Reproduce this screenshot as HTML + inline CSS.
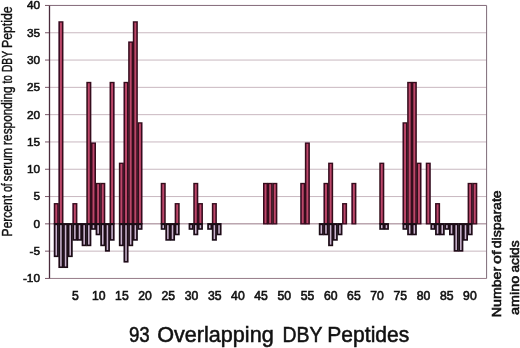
<!DOCTYPE html>
<html><head><meta charset="utf-8"><title>93 Overlapping DBY Peptides</title>
<style>
html,body{margin:0;padding:0;background:#fff;}
svg{display:block}
text{font-family:"Liberation Sans",sans-serif;fill:#111;}
.t{font-size:11.8px;stroke:#111;stroke-width:0.55px;}
.tx{font-size:12.2px;stroke:#111;stroke-width:0.6px;}
.l{font-size:13.9px;stroke:#111;stroke-width:0.4px;}
.r{font-size:13.6px;stroke:#111;stroke-width:0.6px;}
.b{font-size:22.5px;stroke:#111;stroke-width:0.55px;}
</style></head><body>
<svg width="520" height="348" viewBox="0 0 520 348">
<defs><filter id="bl" x="0" y="0" width="520" height="348" filterUnits="userSpaceOnUse"><feGaussianBlur stdDeviation="0.42"/></filter></defs>
<rect width="520" height="348" fill="#fff"/>
<line x1="49.3" x2="486.6" y1="278.45" y2="278.45" stroke="#8a6c7a" stroke-width="0.9"/>
<line x1="45" x2="49.3" y1="278.45" y2="278.45" stroke="#7a5868" stroke-width="1"/>
<line x1="49.3" x2="486.6" y1="251.15" y2="251.15" stroke="#c3b0b9" stroke-width="0.9"/>
<line x1="45" x2="49.3" y1="251.15" y2="251.15" stroke="#7a5868" stroke-width="1"/>
<line x1="49.3" x2="486.6" y1="223.85" y2="223.85" stroke="#8c6878" stroke-width="0.9"/>
<line x1="45" x2="49.3" y1="223.85" y2="223.85" stroke="#7a5868" stroke-width="1"/>
<line x1="49.3" x2="486.6" y1="196.55" y2="196.55" stroke="#c3b0b9" stroke-width="0.9"/>
<line x1="45" x2="49.3" y1="196.55" y2="196.55" stroke="#7a5868" stroke-width="1"/>
<line x1="49.3" x2="486.6" y1="169.25" y2="169.25" stroke="#c3b0b9" stroke-width="0.9"/>
<line x1="45" x2="49.3" y1="169.25" y2="169.25" stroke="#7a5868" stroke-width="1"/>
<line x1="49.3" x2="486.6" y1="141.95" y2="141.95" stroke="#c3b0b9" stroke-width="0.9"/>
<line x1="45" x2="49.3" y1="141.95" y2="141.95" stroke="#7a5868" stroke-width="1"/>
<line x1="49.3" x2="486.6" y1="114.65" y2="114.65" stroke="#c3b0b9" stroke-width="0.9"/>
<line x1="45" x2="49.3" y1="114.65" y2="114.65" stroke="#7a5868" stroke-width="1"/>
<line x1="49.3" x2="486.6" y1="87.35" y2="87.35" stroke="#c3b0b9" stroke-width="0.9"/>
<line x1="45" x2="49.3" y1="87.35" y2="87.35" stroke="#7a5868" stroke-width="1"/>
<line x1="49.3" x2="486.6" y1="60.05" y2="60.05" stroke="#c3b0b9" stroke-width="0.9"/>
<line x1="45" x2="49.3" y1="60.05" y2="60.05" stroke="#7a5868" stroke-width="1"/>
<line x1="49.3" x2="486.6" y1="32.75" y2="32.75" stroke="#c3b0b9" stroke-width="0.9"/>
<line x1="45" x2="49.3" y1="32.75" y2="32.75" stroke="#7a5868" stroke-width="1"/>
<line x1="49.3" x2="486.6" y1="5.45" y2="5.45" stroke="#75586a" stroke-width="0.9"/>
<line x1="45" x2="49.3" y1="5.45" y2="5.45" stroke="#7a5868" stroke-width="1"/>
<line x1="486.6" x2="486.6" y1="5.5" y2="278.5" stroke="#7d6a78" stroke-width="1"/>
<line x1="49.5" x2="49.5" y1="5.5" y2="278.5" stroke="#4a2c3c" stroke-width="1.3"/>
<g filter="url(#bl)">
<rect x="53.75" y="203.05" width="5.050000000000001" height="21.40" fill="#360a1e"/>
<rect x="55.30" y="204.40" width="1.95" height="18.80" fill="#bc4669"/>
<rect x="58.40" y="21.23" width="5.050000000000001" height="203.22" fill="#360a1e"/>
<rect x="59.95" y="22.58" width="1.95" height="200.62" fill="#bc4669"/>
<rect x="72.35" y="203.05" width="5.050000000000001" height="21.40" fill="#360a1e"/>
<rect x="73.90" y="204.40" width="1.95" height="18.80" fill="#bc4669"/>
<rect x="86.30" y="81.84" width="5.050000000000001" height="142.61" fill="#360a1e"/>
<rect x="87.85" y="83.19" width="1.95" height="140.01" fill="#bc4669"/>
<rect x="90.95" y="142.44" width="5.050000000000001" height="82.01" fill="#360a1e"/>
<rect x="92.50" y="143.79" width="1.95" height="79.41" fill="#bc4669"/>
<rect x="95.60" y="182.85" width="5.050000000000001" height="41.60" fill="#360a1e"/>
<rect x="97.15" y="184.20" width="1.95" height="39.00" fill="#bc4669"/>
<rect x="100.25" y="182.85" width="5.050000000000001" height="41.60" fill="#360a1e"/>
<rect x="101.80" y="184.20" width="1.95" height="39.00" fill="#bc4669"/>
<rect x="109.55" y="81.84" width="5.050000000000001" height="142.61" fill="#360a1e"/>
<rect x="111.10" y="83.19" width="1.95" height="140.01" fill="#bc4669"/>
<rect x="118.85" y="162.64" width="5.050000000000001" height="61.81" fill="#360a1e"/>
<rect x="120.40" y="163.99" width="1.95" height="59.21" fill="#bc4669"/>
<rect x="123.50" y="81.84" width="5.050000000000001" height="142.61" fill="#360a1e"/>
<rect x="125.05" y="83.19" width="1.95" height="140.01" fill="#bc4669"/>
<rect x="128.15" y="41.43" width="5.050000000000001" height="183.02" fill="#360a1e"/>
<rect x="129.70" y="42.78" width="1.95" height="180.42" fill="#bc4669"/>
<rect x="132.80" y="21.23" width="5.050000000000001" height="203.22" fill="#360a1e"/>
<rect x="134.35" y="22.58" width="1.95" height="200.62" fill="#bc4669"/>
<rect x="137.45" y="122.24" width="5.050000000000001" height="102.21" fill="#360a1e"/>
<rect x="139.00" y="123.59" width="1.95" height="99.61" fill="#bc4669"/>
<rect x="160.70" y="182.85" width="5.050000000000001" height="41.60" fill="#360a1e"/>
<rect x="162.25" y="184.20" width="1.95" height="39.00" fill="#bc4669"/>
<rect x="174.65" y="203.05" width="5.050000000000001" height="21.40" fill="#360a1e"/>
<rect x="176.20" y="204.40" width="1.95" height="18.80" fill="#bc4669"/>
<rect x="193.25" y="182.85" width="5.050000000000001" height="41.60" fill="#360a1e"/>
<rect x="194.80" y="184.20" width="1.95" height="39.00" fill="#bc4669"/>
<rect x="197.90" y="203.05" width="5.050000000000001" height="21.40" fill="#360a1e"/>
<rect x="199.45" y="204.40" width="1.95" height="18.80" fill="#bc4669"/>
<rect x="211.85" y="203.05" width="5.050000000000001" height="21.40" fill="#360a1e"/>
<rect x="213.40" y="204.40" width="1.95" height="18.80" fill="#bc4669"/>
<rect x="263.00" y="182.85" width="5.050000000000001" height="41.60" fill="#360a1e"/>
<rect x="264.55" y="184.20" width="1.95" height="39.00" fill="#bc4669"/>
<rect x="267.65" y="182.85" width="5.050000000000001" height="41.60" fill="#360a1e"/>
<rect x="269.20" y="184.20" width="1.95" height="39.00" fill="#bc4669"/>
<rect x="272.30" y="182.85" width="5.050000000000001" height="41.60" fill="#360a1e"/>
<rect x="273.85" y="184.20" width="1.95" height="39.00" fill="#bc4669"/>
<rect x="300.20" y="182.85" width="5.050000000000001" height="41.60" fill="#360a1e"/>
<rect x="301.75" y="184.20" width="1.95" height="39.00" fill="#bc4669"/>
<rect x="304.85" y="142.44" width="5.050000000000001" height="82.01" fill="#360a1e"/>
<rect x="306.40" y="143.79" width="1.95" height="79.41" fill="#bc4669"/>
<rect x="323.45" y="182.85" width="5.050000000000001" height="41.60" fill="#360a1e"/>
<rect x="325.00" y="184.20" width="1.95" height="39.00" fill="#bc4669"/>
<rect x="328.10" y="162.64" width="5.050000000000001" height="61.81" fill="#360a1e"/>
<rect x="329.65" y="163.99" width="1.95" height="59.21" fill="#bc4669"/>
<rect x="342.05" y="203.05" width="5.050000000000001" height="21.40" fill="#360a1e"/>
<rect x="343.60" y="204.40" width="1.95" height="18.80" fill="#bc4669"/>
<rect x="351.35" y="182.85" width="5.050000000000001" height="41.60" fill="#360a1e"/>
<rect x="352.90" y="184.20" width="1.95" height="39.00" fill="#bc4669"/>
<rect x="379.25" y="162.64" width="5.050000000000001" height="61.81" fill="#360a1e"/>
<rect x="380.80" y="163.99" width="1.95" height="59.21" fill="#bc4669"/>
<rect x="402.50" y="122.24" width="5.050000000000001" height="102.21" fill="#360a1e"/>
<rect x="404.05" y="123.59" width="1.95" height="99.61" fill="#bc4669"/>
<rect x="407.15" y="81.84" width="5.050000000000001" height="142.61" fill="#360a1e"/>
<rect x="408.70" y="83.19" width="1.95" height="140.01" fill="#bc4669"/>
<rect x="411.80" y="81.84" width="5.050000000000001" height="142.61" fill="#360a1e"/>
<rect x="413.35" y="83.19" width="1.95" height="140.01" fill="#bc4669"/>
<rect x="416.45" y="162.64" width="5.050000000000001" height="61.81" fill="#360a1e"/>
<rect x="418.00" y="163.99" width="1.95" height="59.21" fill="#bc4669"/>
<rect x="425.75" y="162.64" width="5.050000000000001" height="61.81" fill="#360a1e"/>
<rect x="427.30" y="163.99" width="1.95" height="59.21" fill="#bc4669"/>
<rect x="435.05" y="203.05" width="5.050000000000001" height="21.40" fill="#360a1e"/>
<rect x="436.60" y="204.40" width="1.95" height="18.80" fill="#bc4669"/>
<rect x="467.60" y="182.85" width="5.050000000000001" height="41.60" fill="#360a1e"/>
<rect x="469.15" y="184.20" width="1.95" height="39.00" fill="#bc4669"/>
<rect x="472.25" y="182.85" width="5.050000000000001" height="41.60" fill="#360a1e"/>
<rect x="473.80" y="184.20" width="1.95" height="39.00" fill="#bc4669"/>
<rect x="53.75" y="223.05" width="5.050000000000001" height="34.06" fill="#1c0a18"/>
<rect x="55.50" y="225.15" width="1.55" height="30.36" fill="#c9b3cd"/>
<rect x="58.40" y="223.05" width="5.050000000000001" height="44.98" fill="#1c0a18"/>
<rect x="60.15" y="225.15" width="1.55" height="41.28" fill="#c9b3cd"/>
<rect x="63.05" y="223.05" width="5.050000000000001" height="44.98" fill="#1c0a18"/>
<rect x="64.80" y="225.15" width="1.55" height="41.28" fill="#c9b3cd"/>
<rect x="67.70" y="223.05" width="5.050000000000001" height="34.06" fill="#1c0a18"/>
<rect x="69.45" y="225.15" width="1.55" height="30.36" fill="#c9b3cd"/>
<rect x="72.35" y="223.05" width="5.050000000000001" height="17.68" fill="#1c0a18"/>
<rect x="74.10" y="225.15" width="1.55" height="13.98" fill="#c9b3cd"/>
<rect x="77.00" y="223.05" width="5.050000000000001" height="17.68" fill="#1c0a18"/>
<rect x="78.75" y="225.15" width="1.55" height="13.98" fill="#c9b3cd"/>
<rect x="81.65" y="223.05" width="5.050000000000001" height="23.14" fill="#1c0a18"/>
<rect x="83.40" y="225.15" width="1.55" height="19.44" fill="#c9b3cd"/>
<rect x="86.30" y="223.05" width="5.050000000000001" height="23.14" fill="#1c0a18"/>
<rect x="88.05" y="225.15" width="1.55" height="19.44" fill="#c9b3cd"/>
<rect x="90.95" y="223.05" width="5.050000000000001" height="6.76" fill="#1c0a18"/>
<rect x="92.70" y="225.15" width="1.55" height="3.06" fill="#c9b3cd"/>
<rect x="95.60" y="223.05" width="5.050000000000001" height="12.22" fill="#1c0a18"/>
<rect x="97.35" y="225.15" width="1.55" height="8.52" fill="#c9b3cd"/>
<rect x="100.25" y="223.05" width="5.050000000000001" height="23.14" fill="#1c0a18"/>
<rect x="102.00" y="225.15" width="1.55" height="19.44" fill="#c9b3cd"/>
<rect x="104.90" y="223.05" width="5.050000000000001" height="28.60" fill="#1c0a18"/>
<rect x="106.65" y="225.15" width="1.55" height="24.90" fill="#c9b3cd"/>
<rect x="109.55" y="223.05" width="5.050000000000001" height="17.68" fill="#1c0a18"/>
<rect x="111.30" y="225.15" width="1.55" height="13.98" fill="#c9b3cd"/>
<rect x="118.85" y="223.05" width="5.050000000000001" height="23.14" fill="#1c0a18"/>
<rect x="120.60" y="225.15" width="1.55" height="19.44" fill="#c9b3cd"/>
<rect x="123.50" y="223.05" width="5.050000000000001" height="39.52" fill="#1c0a18"/>
<rect x="125.25" y="225.15" width="1.55" height="35.82" fill="#c9b3cd"/>
<rect x="128.15" y="223.05" width="5.050000000000001" height="23.14" fill="#1c0a18"/>
<rect x="129.90" y="225.15" width="1.55" height="19.44" fill="#c9b3cd"/>
<rect x="132.80" y="223.05" width="5.050000000000001" height="17.68" fill="#1c0a18"/>
<rect x="134.55" y="225.15" width="1.55" height="13.98" fill="#c9b3cd"/>
<rect x="137.45" y="223.05" width="5.050000000000001" height="6.76" fill="#1c0a18"/>
<rect x="139.20" y="225.15" width="1.55" height="3.06" fill="#c9b3cd"/>
<rect x="160.70" y="223.05" width="5.050000000000001" height="6.76" fill="#1c0a18"/>
<rect x="162.45" y="225.15" width="1.55" height="3.06" fill="#c9b3cd"/>
<rect x="165.35" y="223.05" width="5.050000000000001" height="17.68" fill="#1c0a18"/>
<rect x="167.10" y="225.15" width="1.55" height="13.98" fill="#c9b3cd"/>
<rect x="170.00" y="223.05" width="5.050000000000001" height="17.68" fill="#1c0a18"/>
<rect x="171.75" y="225.15" width="1.55" height="13.98" fill="#c9b3cd"/>
<rect x="174.65" y="223.05" width="5.050000000000001" height="12.22" fill="#1c0a18"/>
<rect x="176.40" y="225.15" width="1.55" height="8.52" fill="#c9b3cd"/>
<rect x="188.60" y="223.05" width="5.050000000000001" height="6.76" fill="#1c0a18"/>
<rect x="190.35" y="225.15" width="1.55" height="3.06" fill="#c9b3cd"/>
<rect x="193.25" y="223.05" width="5.050000000000001" height="12.22" fill="#1c0a18"/>
<rect x="195.00" y="225.15" width="1.55" height="8.52" fill="#c9b3cd"/>
<rect x="197.90" y="223.05" width="5.050000000000001" height="6.76" fill="#1c0a18"/>
<rect x="199.65" y="225.15" width="1.55" height="3.06" fill="#c9b3cd"/>
<rect x="207.20" y="223.05" width="5.050000000000001" height="6.76" fill="#1c0a18"/>
<rect x="208.95" y="225.15" width="1.55" height="3.06" fill="#c9b3cd"/>
<rect x="211.85" y="223.05" width="5.050000000000001" height="17.68" fill="#1c0a18"/>
<rect x="213.60" y="225.15" width="1.55" height="13.98" fill="#c9b3cd"/>
<rect x="216.50" y="223.05" width="5.050000000000001" height="12.22" fill="#1c0a18"/>
<rect x="218.25" y="225.15" width="1.55" height="8.52" fill="#c9b3cd"/>
<rect x="318.80" y="223.05" width="5.050000000000001" height="12.22" fill="#1c0a18"/>
<rect x="320.55" y="225.15" width="1.55" height="8.52" fill="#c9b3cd"/>
<rect x="323.45" y="223.05" width="5.050000000000001" height="12.22" fill="#1c0a18"/>
<rect x="325.20" y="225.15" width="1.55" height="8.52" fill="#c9b3cd"/>
<rect x="328.10" y="223.05" width="5.050000000000001" height="23.14" fill="#1c0a18"/>
<rect x="329.85" y="225.15" width="1.55" height="19.44" fill="#c9b3cd"/>
<rect x="332.75" y="223.05" width="5.050000000000001" height="17.68" fill="#1c0a18"/>
<rect x="334.50" y="225.15" width="1.55" height="13.98" fill="#c9b3cd"/>
<rect x="337.40" y="223.05" width="5.050000000000001" height="12.22" fill="#1c0a18"/>
<rect x="339.15" y="225.15" width="1.55" height="8.52" fill="#c9b3cd"/>
<rect x="379.25" y="223.05" width="5.050000000000001" height="6.76" fill="#1c0a18"/>
<rect x="381.00" y="225.15" width="1.55" height="3.06" fill="#c9b3cd"/>
<rect x="383.90" y="223.05" width="5.050000000000001" height="6.76" fill="#1c0a18"/>
<rect x="385.65" y="225.15" width="1.55" height="3.06" fill="#c9b3cd"/>
<rect x="402.50" y="223.05" width="5.050000000000001" height="6.76" fill="#1c0a18"/>
<rect x="404.25" y="225.15" width="1.55" height="3.06" fill="#c9b3cd"/>
<rect x="407.15" y="223.05" width="5.050000000000001" height="12.22" fill="#1c0a18"/>
<rect x="408.90" y="225.15" width="1.55" height="8.52" fill="#c9b3cd"/>
<rect x="411.80" y="223.05" width="5.050000000000001" height="12.22" fill="#1c0a18"/>
<rect x="413.55" y="225.15" width="1.55" height="8.52" fill="#c9b3cd"/>
<rect x="430.40" y="223.05" width="5.050000000000001" height="6.76" fill="#1c0a18"/>
<rect x="432.15" y="225.15" width="1.55" height="3.06" fill="#c9b3cd"/>
<rect x="435.05" y="223.05" width="5.050000000000001" height="12.22" fill="#1c0a18"/>
<rect x="436.80" y="225.15" width="1.55" height="8.52" fill="#c9b3cd"/>
<rect x="439.70" y="223.05" width="5.050000000000001" height="12.22" fill="#1c0a18"/>
<rect x="441.45" y="225.15" width="1.55" height="8.52" fill="#c9b3cd"/>
<rect x="444.35" y="223.05" width="5.050000000000001" height="6.76" fill="#1c0a18"/>
<rect x="446.10" y="225.15" width="1.55" height="3.06" fill="#c9b3cd"/>
<rect x="449.00" y="223.05" width="5.050000000000001" height="12.22" fill="#1c0a18"/>
<rect x="450.75" y="225.15" width="1.55" height="8.52" fill="#c9b3cd"/>
<rect x="453.65" y="223.05" width="5.050000000000001" height="28.60" fill="#1c0a18"/>
<rect x="455.40" y="225.15" width="1.55" height="24.90" fill="#c9b3cd"/>
<rect x="458.30" y="223.05" width="5.050000000000001" height="28.60" fill="#1c0a18"/>
<rect x="460.05" y="225.15" width="1.55" height="24.90" fill="#c9b3cd"/>
<rect x="462.95" y="223.05" width="5.050000000000001" height="17.68" fill="#1c0a18"/>
<rect x="464.70" y="225.15" width="1.55" height="13.98" fill="#c9b3cd"/>
<rect x="467.60" y="223.05" width="5.050000000000001" height="12.22" fill="#1c0a18"/>
<rect x="469.35" y="225.15" width="1.55" height="8.52" fill="#c9b3cd"/>
</g>
<text class="t" x="40.0" y="282.35" text-anchor="end">-10</text>
<text class="t" x="40.0" y="255.05" text-anchor="end">-5</text>
<text class="t" x="40.0" y="227.75" text-anchor="end">0</text>
<text class="t" x="40.0" y="200.45" text-anchor="end">5</text>
<text class="t" x="40.0" y="173.15" text-anchor="end">10</text>
<text class="t" x="40.0" y="145.85" text-anchor="end">15</text>
<text class="t" x="40.0" y="118.55" text-anchor="end">20</text>
<text class="t" x="40.0" y="91.25" text-anchor="end">25</text>
<text class="t" x="40.0" y="63.95" text-anchor="end">30</text>
<text class="t" x="40.0" y="36.65" text-anchor="end">35</text>
<text class="t" x="40.0" y="9.35" text-anchor="end">40</text>
<text class="tx" x="75.50" y="300.4" text-anchor="middle">5</text>
<text class="tx" x="98.70" y="300.4" text-anchor="middle">10</text>
<text class="tx" x="121.90" y="300.4" text-anchor="middle">15</text>
<text class="tx" x="145.10" y="300.4" text-anchor="middle">20</text>
<text class="tx" x="168.30" y="300.4" text-anchor="middle">25</text>
<text class="tx" x="191.50" y="300.4" text-anchor="middle">30</text>
<text class="tx" x="214.70" y="300.4" text-anchor="middle">35</text>
<text class="tx" x="237.90" y="300.4" text-anchor="middle">40</text>
<text class="tx" x="261.10" y="300.4" text-anchor="middle">45</text>
<text class="tx" x="284.30" y="300.4" text-anchor="middle">50</text>
<text class="tx" x="307.50" y="300.4" text-anchor="middle">55</text>
<text class="tx" x="330.70" y="300.4" text-anchor="middle">60</text>
<text class="tx" x="353.90" y="300.4" text-anchor="middle">65</text>
<text class="tx" x="377.10" y="300.4" text-anchor="middle">70</text>
<text class="tx" x="400.30" y="300.4" text-anchor="middle">75</text>
<text class="tx" x="423.50" y="300.4" text-anchor="middle">80</text>
<text class="tx" x="446.70" y="300.4" text-anchor="middle">85</text>
<text class="tx" x="469.90" y="300.4" text-anchor="middle">90</text>
<text class="l" transform="translate(11.7 236.4) rotate(-90)" textLength="41.5" lengthAdjust="spacingAndGlyphs">Percent</text>
<text class="l" transform="translate(11.7 192.1) rotate(-90)" textLength="8.8" lengthAdjust="spacingAndGlyphs">of</text>
<text class="l" transform="translate(11.7 181.4) rotate(-90)" textLength="33.5" lengthAdjust="spacingAndGlyphs">serum</text>
<text class="l" transform="translate(11.7 144.9) rotate(-90)" textLength="58.6" lengthAdjust="spacingAndGlyphs">responding</text>
<text class="l" transform="translate(11.7 83.4) rotate(-90)" textLength="8.3" lengthAdjust="spacingAndGlyphs">to</text>
<text class="l" transform="translate(11.7 72.1) rotate(-90)" textLength="21.2" lengthAdjust="spacingAndGlyphs">DBY</text>
<text class="l" transform="translate(11.7 48.0) rotate(-90)" textLength="41.6" lengthAdjust="spacingAndGlyphs">Peptide</text>
<text class="r" transform="translate(501 317.2) rotate(-90)" textLength="50.4" lengthAdjust="spacingAndGlyphs">Number</text>
<text class="r" transform="translate(501 263.9) rotate(-90)" textLength="13.3" lengthAdjust="spacingAndGlyphs">of</text>
<text class="r" transform="translate(501 248.3) rotate(-90)" textLength="58.0" lengthAdjust="spacingAndGlyphs">disparate</text>
<text class="r" transform="translate(518.6 314.9) rotate(-90)" textLength="39.2" lengthAdjust="spacingAndGlyphs">amino</text>
<text class="r" transform="translate(518.6 272.5) rotate(-90)" textLength="32.0" lengthAdjust="spacingAndGlyphs">acids</text>
<text class="b" x="128.9" y="341.7" textLength="20.8" lengthAdjust="spacingAndGlyphs">93</text>
<text class="b" x="157.2" y="341.7" textLength="116.5" lengthAdjust="spacingAndGlyphs">Overlapping</text>
<text class="b" x="282.4" y="341.7" textLength="40.0" lengthAdjust="spacingAndGlyphs">DBY</text>
<text class="b" x="327.3" y="341.7" textLength="82.0" lengthAdjust="spacingAndGlyphs">Peptides</text>
</svg>
</body></html>
